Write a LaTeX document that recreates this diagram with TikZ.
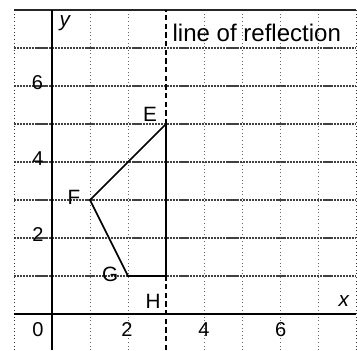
\documentclass[tikz,border=0pt]{standalone}
\usepackage{fontspec}
\setmainfont{Liberation Sans}
\begin{document}
\begin{tikzpicture}[x=1cm,y=1cm,
  hgrid/.style={draw=black!75, line width=0.8pt, dash pattern=on 1.6pt off 0.6pt},
  vgrid/.style={draw=black!60, line width=0.7pt, dotted},
  axisline/.style={draw=black, line width=1.3pt},
  refl/.style={draw=black, line width=1.1pt, dash pattern=on 4pt off 2.5pt},
  shapeline/.style={draw=black, line width=1.2pt, line join=miter},
  lbl/.style={font=\fontsize{15.5}{18}\selectfont, inner sep=0pt},
  num/.style={font=\fontsize{15}{18}\selectfont, inner sep=0pt},
  ttl/.style={font=\fontsize{18}{20}\selectfont, inner sep=0pt, anchor=base}]
\useasboundingbox (-1.368,-0.947) rectangle (8.026,8.263);
% grid
\foreach \yy in {1,...,7} \draw[hgrid] (-1,\yy) -- (8,\yy);
\foreach \xx in {1,2,4,5,6,7} \draw[vgrid] (\xx,-0.95) -- (\xx,8);
\draw[vgrid, draw=black!80] (-1,-0.95) -- (-1,8);
\draw[vgrid, draw=black!80] (8,-0.95) -- (8,8);
\draw[draw=black!85, line width=1pt] (-1,8) -- (8,8);
% axes
\draw[axisline] (-1,0) -- (8,0);
\draw[axisline] (0,-0.95) -- (0,8);
% line of reflection
\coordinate (rtop) at (3,8);
\coordinate (rbot) at (3,-0.95);
\draw[refl] (rbot) -- (rtop);
% shape
\coordinate (E) at (3,5);
\coordinate (F) at (1,3);
\coordinate (G) at (2,1);
\coordinate (H) at (3,1);
\draw[shapeline] (E) -- (F) -- (G) -- (H) -- cycle;
% labels
\node[lbl] (lE) at (2.58,5.26) {E};
\node[lbl] (lF) at (0.58,3.08) {F};
\node[lbl] (lG) at (1.53,1.03) {G};
\node[lbl] (lH) at (2.66,0.34) {H};
\node[lbl] (ly) at (0.34,7.66) {\itshape y};
\node[lbl] (lx) at (7.68,0.34) {\itshape x};
\node[num] (n0) at (-0.37,-0.42) {0};
\node[num] (nx2) at (1.97,-0.42) {2};
\node[num] (nx4) at (4,-0.42) {4};
\node[num] (nx6) at (6.02,-0.42) {6};
\node[num] (ny2) at (-0.37,2.1) {2};
\node[num] (ny4) at (-0.37,4.1) {4};
\node[num] (ny6) at (-0.38,6.09) {6};
\node[ttl] (title) at (5.39,7.16) {line of reflection};
\end{tikzpicture}
\end{document}
